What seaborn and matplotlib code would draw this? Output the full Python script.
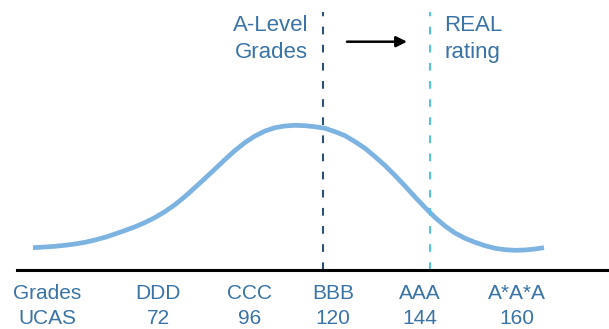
import matplotlib
matplotlib.use("Agg")
import matplotlib.pyplot as plt
import seaborn as sns
import pandas as pd

# ---- data (positions along the grade scale, height of the distribution) ----
curve_pos = [33, 45, 55, 65, 75, 85, 95, 105, 115, 125, 135, 145, 155, 165, 175,
             185, 195, 205, 215, 225, 235, 245, 255, 265, 275, 285, 295, 305, 315,
             325, 335, 345, 355, 365, 375, 385, 395, 405, 415, 425, 435, 445, 455,
             465, 475, 485, 495, 505, 515, 525, 535, 544]
curve_height = [22.3, 23, 23.7, 24.7, 26, 27.7, 30, 32.7, 36, 39.5, 43.2, 47.5, 52.5,
                58.4, 65.4, 73.5, 82.5, 91.7, 101, 110.5, 119.5, 127.5, 134, 139,
                142.3, 144, 144.7, 144.3, 143.3, 141.7, 138.3, 134.3, 128.3, 121.7,
                113.3, 104.5, 94.5, 84, 73, 62.5, 52.5, 44, 37, 31.7, 27.7, 24.3,
                21.7, 20.3, 19.7, 20, 21, 22.3]

grades = ["Grades", "DDD", "CCC", "BBB", "AAA", "A*A*A"]
ucas = ["UCAS", "72", "96", "120", "144", "160"]
tick_pos = [47, 158, 250, 333, 420, 517]

alevel_pos = 323   # A-Level grades marker
real_pos = 430     # REAL rating marker
marker_top = 258

# ---- style ----
sns.set_style("white")
plt.rcParams["font.family"] = ["Liberation Sans", "DejaVu Sans"]

TEXT = "#3a73a6"
CURVE = "#7db3e1"
DARK = "#2d5078"
LIGHT = "#55c3e6"

fig = plt.figure(figsize=(6.09, 3.29), dpi=100)
ax = fig.add_axes([17 / 609, 59 / 329, 592 / 609, 270 / 329])

df = pd.DataFrame({"pos": curve_pos, "height": curve_height})
sns.lineplot(data=df, x="pos", y="height", ax=ax, color=CURVE, linewidth=3.4,
             sort=False)
ax.lines[-1].set_solid_capstyle("butt")
ax.lines[-1].set_solid_joinstyle("round")

ax.vlines(alevel_pos, 0, marker_top, colors=DARK, linewidth=1.5,
          linestyles=(0, (3.7, 5)))
ax.vlines(real_pos, 0, marker_top, colors=LIGHT, linewidth=1.5,
          linestyles=(0, (3.7, 5)))

ax.text(308, 239.3, "A-Level", ha="right", va="baseline", fontsize=16, color=TEXT)
ax.text(308, 212, "Grades", ha="right", va="baseline", fontsize=16, color=TEXT)
ax.text(444, 239.3, "REAL", ha="left", va="baseline", fontsize=16, color=TEXT)
ax.text(444, 212, "rating", ha="left", va="baseline", fontsize=16, color=TEXT)

ax.annotate("", xy=(407, 228.3), xytext=(347, 228.3),
            arrowprops=dict(arrowstyle="-|>", color="black", lw=1.8,
                            mutation_scale=16, shrinkA=0, shrinkB=0))

ax.set_xlim(17, 609)
ax.set_ylim(0, 270)
ax.set_xticks(tick_pos)
ax.set_xticklabels([f"{g}\n{u}" for g, u in zip(grades, ucas)],
                   fontsize=15, color=TEXT, linespacing=1.42)
ax.tick_params(axis="x", length=0, pad=10)
ax.set_yticks([])
ax.set_xlabel("")
ax.set_ylabel("")
for s in ["top", "left", "right"]:
    ax.spines[s].set_visible(False)
ax.spines["bottom"].set_color("black")
ax.spines["bottom"].set_linewidth(2.2)

fig.savefig("out.png", dpi=100)
